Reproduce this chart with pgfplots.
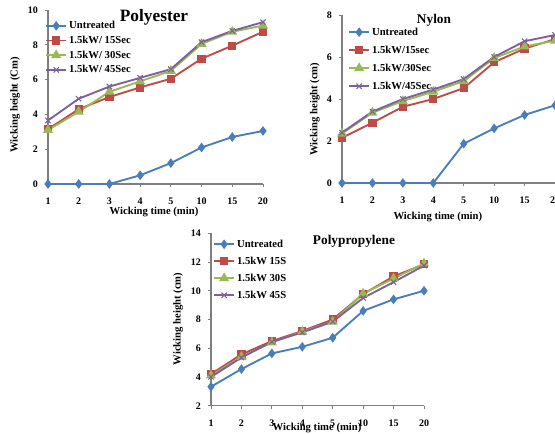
\documentclass[border=0pt]{standalone}
\usepackage{fontspec}
\setmainfont{Liberation Serif}
\usepackage{pgfplots}
\pgfplotsset{compat=1.18}
\definecolor{cU}{HTML}{4A7EBB}
\definecolor{cA}{HTML}{BE4B48}
\definecolor{cB}{HTML}{98B954}
\definecolor{cC}{HTML}{7D60A0}
\definecolor{axgray}{HTML}{7F7F7F}
\pgfplotsset{
 chart/.style={
   scale only axis, axis lines=left, x axis line style={-}, y axis line style={-},
   axis line style={draw=axgray, line width=0.8pt},
   xmin=0,xmax=7, xtick={0,...,7}, xticklabels={1,2,3,4,5,10,15,20},
   tick align=outside, major tick length=2.5pt, tick style={draw=axgray, line width=0.6pt},
   tick label style={font=\bfseries\fontsize{7.5}{8}\selectfont},
   xticklabel style={yshift=-4.5pt},
   yticklabel style={xshift=-1.5pt},
   /pgf/number format/assume math mode=true,
   label style={font=\bfseries\fontsize{8}{9}\selectfont},
   legend cell align=left,
   legend style={draw=none, fill=none, inner sep=0pt, font=\bfseries\fontsize{8}{9}\selectfont,
     nodes={inner sep=0.5pt, text height=6pt, text depth=1.5pt}, column sep=1pt},
   legend image code/.code={\draw[mark repeat=2,mark phase=2] plot coordinates {(0pt,0pt) (7.5pt,0pt) (15pt,0pt)};},
   clip=false,
 },
 sU/.style={color=cU, line width=1.4pt, mark=diamond*, mark size=2.5pt, mark options={solid, fill=cU}},
 sA/.style={color=cA, line width=1.4pt, mark=square*, mark size=2.4pt, mark options={solid, fill=cA}},
 sB/.style={color=cB, line width=1.4pt, mark=triangle*, mark size=3pt, mark options={solid, fill=cB}},
 sC/.style={color=cC, line width=1.4pt, mark=x, mark size=2.8pt, mark options={solid, line width=0.8pt}},
}
\begin{document}
\begin{tikzpicture}
\useasboundingbox (0pt,0pt) rectangle (416.25pt,325.5pt);
% ---------------- Polyester ----------------
\begin{axis}[chart, at={(36pt,187.5pt)}, anchor=south west,
  width=161.25pt, height=130.5pt,
  ymin=0, ymax=10, ytick={0,2,...,10},
  xlabel={Wicking time (min)}, ylabel={Wicking height (Cm)},
  x label style={at={(axis description cs:0.493,-0.161)}, anchor=center},
  y label style={at={(axis description cs:-0.153,0.454)}, anchor=center},
  legend style={at={(axis description cs:-0.014,0.943)}, anchor=north west, row sep=2.5pt},
]
\addplot[sU] coordinates {(0,0) (1,0) (2,0) (3,0.5) (4,1.2) (5,2.1) (6,2.7) (7,3.05)};
\addplot[sA] coordinates {(0,3.15) (1,4.3) (2,5.0) (3,5.55) (4,6.05) (5,7.2) (6,7.95) (7,8.75)};
\addplot[sB] coordinates {(0,3.1) (1,4.15) (2,5.3) (3,5.9) (4,6.5) (5,8.05) (6,8.75) (7,9.1)};
\addplot[sC] coordinates {(0,3.65) (1,4.9) (2,5.6) (3,6.1) (4,6.6) (5,8.15) (6,8.8) (7,9.3)};
\legend{Untreated, 1.5kW/ 15Sec, 1.5kW/ 30Sec, 1.5kW/ 45Sec}
\node[font=\bfseries\fontsize{13}{14}\selectfont] at (axis description cs:0.493,0.96) {Polyester};
\end{axis}
% ---------------- Nylon ----------------
\begin{axis}[chart, at={(256.5pt,188.25pt)}, anchor=south west,
  width=159.75pt, height=126pt,
  ymin=0, ymax=8, ytick={0,2,...,8},
  xlabel={Wicking time (min)}, ylabel={Wicking height (cm)},
  x label style={at={(axis description cs:0.45,-0.202)}, anchor=center},
  y label style={at={(axis description cs:-0.127,0.44)}, anchor=center},
  legend style={at={(axis description cs:0.028,0.933)}, anchor=north west, row sep=5pt},
]
\addplot[sU] coordinates {(0,0) (1,0) (2,0) (3,0) (4,1.87) (5,2.6) (6,3.24) (7,3.7)};
\addplot[sA] coordinates {(0,2.15) (1,2.87) (2,3.63) (3,4.0) (4,4.52) (5,5.75) (6,6.4) (7,6.85)};
\addplot[sB] coordinates {(0,2.35) (1,3.35) (2,3.9) (3,4.35) (4,4.85) (5,5.95) (6,6.5) (7,6.78)};
\addplot[sC] coordinates {(0,2.4) (1,3.4) (2,4.0) (3,4.45) (4,4.95) (5,6.0) (6,6.75) (7,7.05)};
\legend{Untreated, 1.5kW/15sec, 1.5kW/30Sec, 1.5kW/45Sec}
\node[font=\bfseries\fontsize{10}{11}\selectfont] at (axis description cs:0.432,0.97) {Nylon};
\end{axis}
% ---------------- Polypropylene ----------------
\begin{axis}[chart, at={(158.25pt,21.225pt)}, anchor=south west,
  width=159.75pt, height=129.3pt,
  ymin=2, ymax=14, ytick={2,4,...,14},
  xlabel={Wicking time (min)}, ylabel={Wicking height (cm)},
  x label style={at={(axis description cs:0.498,-0.13)}, anchor=center},
  y label style={at={(axis description cs:-0.155,0.503)}, anchor=center},
  legend style={at={(axis description cs:0.009,0.971)}, anchor=north west, row sep=4.25pt},
]
\addplot[sU] coordinates {(0,3.32) (1,4.55) (2,5.64) (3,6.1) (4,6.73) (5,8.6) (6,9.4) (7,10.0)};
\addplot[sA] coordinates {(0,4.2) (1,5.57) (2,6.5) (3,7.2) (4,8.0) (5,9.77) (6,11.0) (7,11.84)};
\addplot[sB] coordinates {(0,4.1) (1,5.4) (2,6.4) (3,7.15) (4,7.85) (5,9.8) (6,10.85) (7,11.9)};
\addplot[sC] coordinates {(0,4.0) (1,5.35) (2,6.45) (3,7.1) (4,7.85) (5,9.5) (6,10.6) (7,11.75)};
\legend{Untreated, 1.5kW 15S, 1.5kW 30S, 1.5kW 45S}
\node[font=\bfseries\fontsize{10}{11}\selectfont] at (axis description cs:0.671,0.955) {Polypropylene};
\end{axis}
\end{tikzpicture}
\end{document}
